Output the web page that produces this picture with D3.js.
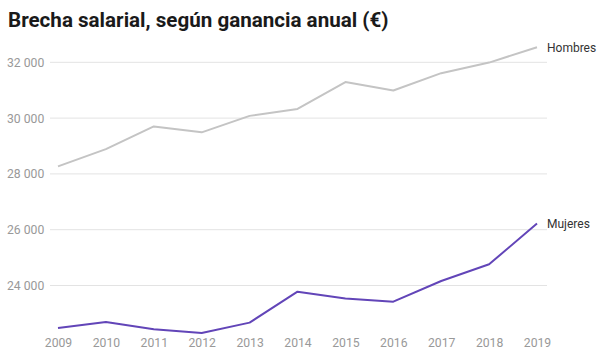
<!DOCTYPE html>
<html><head><meta charset="utf-8">
<script src="https://cdn.jsdelivr.net/npm/d3@7"></script>
<style>
html,body{margin:0;padding:0;background:#fff;}
svg{display:block;font-family:Roboto, "Noto Sans", sans-serif;}
</style></head>
<body><svg id="c" width="612" height="357"></svg>
<script>
const years = [2009,2010,2011,2012,2013,2014,2015,2016,2017,2018,2019];
const hombres = [28270,28890,29700,29490,30080,30330,31290,30990,31610,31990,32540];
const mujeres = [22480,22690,22430,22300,22670,23780,23530,23420,24160,24760,26220];
const yTicks = [24000,26000,28000,30000,32000];
const seriesNames = ["Hombres","Mujeres"];
const title = "Brecha salarial, según ganancia anual (€)";

const svg = d3.select("#c");
const x = d3.scaleLinear().domain([2009,2019]).range([58,537]);
const y = d3.scaleLinear().domain([24000,32000]).range([285.5,62.3]);
const fmt = v => d3.format(",")(v).replace(/,/g," ");

svg.append("text").attr("x",8).attr("y",27).attr("font-size",20.6).attr("font-weight",700)
  .attr("fill","#1a1a1a").text(title);

const g = svg.append("g");
g.selectAll("line.grid").data(yTicks).join("line").attr("class","grid")
  .attr("x1",50).attr("x2",547).attr("y1",d=>y(d)).attr("y2",d=>y(d))
  .attr("stroke","#e3e3e3").attr("stroke-width",1);
g.selectAll("text.yt").data(yTicks).join("text").attr("class","yt")
  .attr("x",7).attr("y",d=>y(d)+4.5).attr("font-size",12.2).attr("fill","#999")
  .text(fmt);

const xAxis = d3.axisBottom(x).tickValues(years).tickFormat(d3.format("d")).tickSize(0).tickPadding(0);
const ax = svg.append("g").attr("transform","translate(0,338)").call(xAxis);
ax.select(".domain").remove();
ax.selectAll("text").attr("font-size",12.2).attr("fill","#999").attr("font-family","Roboto, 'Noto Sans', sans-serif");

const line = d3.line().x((d,i)=>x(years[i])).y(d=>y(d));
const data = [hombres, mujeres];
const colors = ["#c4c4c4","#6245b8"];
svg.selectAll("path.s").data(data).join("path").attr("class","s")
  .attr("d",line).attr("fill","none").attr("stroke",(d,i)=>colors[i]).attr("stroke-width",2)
  .attr("stroke-linejoin","round");
svg.selectAll("text.lab").data(data).join("text").attr("class","lab")
  .attr("x",x(2019)+10).attr("y",d=>y(d[d.length-1])+4.5).attr("font-size",12)
  .attr("fill","#333").text((d,i)=>seriesNames[i]);
</script></body></html>
